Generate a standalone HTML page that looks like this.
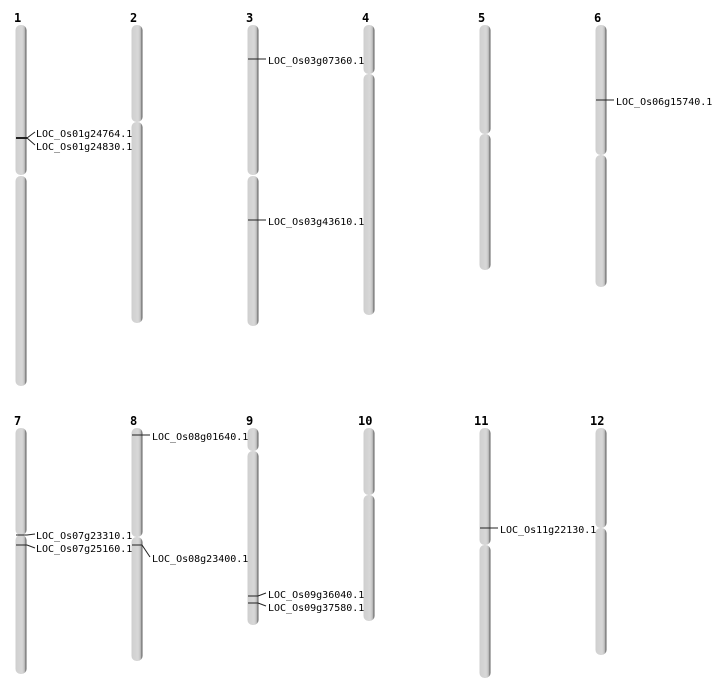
<!DOCTYPE html>
<html><head><meta charset="utf-8"><style>body{margin:0;background:#fff}svg{display:block}</style></head><body>
<svg width="712" height="700" xmlns="http://www.w3.org/2000/svg" font-family="'DejaVu Sans Mono','Liberation Mono',monospace">
<defs><linearGradient id="g" x1="0" x2="1" y1="0" y2="0"><stop offset="0" stop-color="#cfcfcf"/><stop offset="0.6" stop-color="#d8d8d8"/><stop offset="0.8" stop-color="#c4c4c4"/><stop offset="1" stop-color="#555"/></linearGradient></defs>
<g fill="url(#g)">
<!-- row1 -->
<rect x="15.5" y="25" width="11" height="150" rx="5"/><rect x="15.5" y="176" width="11" height="210" rx="5"/>
<rect x="131.5" y="25" width="11" height="97" rx="5"/><rect x="131.5" y="122" width="11" height="201" rx="5"/>
<rect x="247.5" y="25" width="11" height="150" rx="5"/><rect x="247.5" y="176" width="11" height="150" rx="5"/>
<rect x="363.5" y="25" width="11" height="49" rx="5"/><rect x="363.5" y="74" width="11" height="241" rx="5"/>
<rect x="479.5" y="25" width="11" height="109" rx="5"/><rect x="479.5" y="134" width="11" height="136" rx="5"/>
<rect x="595.5" y="25" width="11" height="130" rx="5"/><rect x="595.5" y="155" width="11" height="132" rx="5"/>
<!-- row2 -->
<rect x="15.5" y="428" width="11" height="107" rx="5"/><rect x="15.5" y="535" width="11" height="139" rx="5"/>
<rect x="131.5" y="428" width="11" height="109" rx="5"/><rect x="131.5" y="537" width="11" height="124" rx="5"/>
<rect x="247.5" y="428" width="11" height="23" rx="5"/><rect x="247.5" y="451" width="11" height="174" rx="5"/>
<rect x="363.5" y="428" width="11" height="67" rx="5"/><rect x="363.5" y="495" width="11" height="126" rx="5"/>
<rect x="479.5" y="428" width="11" height="117" rx="5"/><rect x="479.5" y="545" width="11" height="133" rx="5"/>
<rect x="595.5" y="428" width="11" height="100" rx="5"/><rect x="595.5" y="528" width="11" height="127" rx="5"/>
</g>
<g font-size="12" font-weight="bold" fill="#000">
<text x="14" y="22">1</text><text x="130" y="22">2</text><text x="246" y="22">3</text><text x="362" y="22">4</text><text x="478" y="22">5</text><text x="594" y="22">6</text>
<text x="14" y="425">7</text><text x="130" y="425">8</text><text x="246" y="425">9</text><text x="358" y="425">10</text><text x="474" y="425">11</text><text x="590" y="425">12</text>
</g>
<g stroke="#222" stroke-width="1" fill="none">
<line x1="16" y1="138" x2="27" y2="138" stroke-width="2"/><polyline points="27,138 35,132"/><polyline points="27,138 35,145"/>
<line x1="248" y1="59" x2="266" y2="59"/>
<line x1="248" y1="220" x2="266" y2="220"/>
<line x1="596" y1="100" x2="614" y2="100"/>
<polyline points="16,535 27,535 35,534"/><polyline points="16,545 27,545 35,548"/>
<line x1="132" y1="435" x2="150" y2="435"/>
<polyline points="132,545 142,545 150,557"/>
<polyline points="248,596 258,596 266,593"/><polyline points="248,603 258,603 266,606"/>
<line x1="480" y1="528" x2="498" y2="528"/>
</g>
<g font-size="10" fill="#000">
<text x="36" y="137">LOC_Os01g24764.1</text><text x="36" y="150">LOC_Os01g24830.1</text>
<text x="268" y="64">LOC_Os03g07360.1</text><text x="268" y="225">LOC_Os03g43610.1</text>
<text x="616" y="105">LOC_Os06g15740.1</text>
<text x="36" y="539">LOC_Os07g23310.1</text><text x="36" y="552">LOC_Os07g25160.1</text>
<text x="152" y="440">LOC_Os08g01640.1</text><text x="152" y="562">LOC_Os08g23400.1</text>
<text x="268" y="598">LOC_Os09g36040.1</text><text x="268" y="611">LOC_Os09g37580.1</text>
<text x="500" y="533">LOC_Os11g22130.1</text>
</g>
</svg>
</body></html>
